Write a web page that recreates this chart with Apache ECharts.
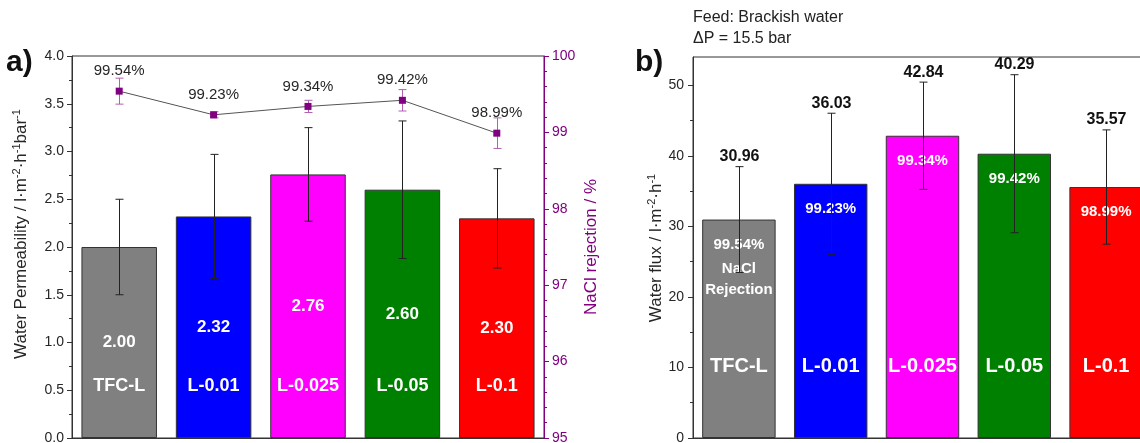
<!DOCTYPE html>
<html><head><meta charset="utf-8">
<script src="https://cdn.jsdelivr.net/npm/echarts@6/dist/echarts.min.js"></script>
<style>html,body{margin:0;padding:0;background:#fff}#c{width:1140px;height:443px}</style>
</head><body><div id="c"></div>
<script>
const categories = ['TFC-L', 'L-0.01', 'L-0.025', 'L-0.05', 'L-0.1'];
const barColors = ['#808080', '#0000FF', '#FF00FF', '#008000', '#FF0000'];
const permeability = [2.00, 2.32, 2.76, 2.60, 2.30];
const permeabilityErr = [0.50, 0.65, 0.49, 0.72, 0.52];
const rejection = [99.54, 99.23, 99.34, 99.42, 98.99];
const rejectionErr = [0.17, 0.04, 0.08, 0.14, 0.20];
const flux = [30.96, 36.03, 42.84, 40.29, 35.57];
const fluxErr = [7.5, 10.0, 7.6, 11.2, 8.1];
const fluxMajorTicks = [0, 10, 20, 30, 40, 50];
const fluxMinorTicks = [5, 15, 25, 35, 45];

const FONT = '"Liberation Sans", Arial, sans-serif';
const PURPLE = '#800080';

function errRender(color, withText, capHalf) {
  return function (params, api) {
    const i = api.value(0), v = api.value(1), e = api.value(2);
    const top = api.coord([i, v + e]);
    const bot = api.coord([i, v - e]);
    const x = Math.round(top[0]) + 0.5;
    const st = { stroke: color, lineWidth: 1 };
    const children = [
      { type: 'line', shape: { x1: x, y1: top[1], x2: x, y2: bot[1] }, style: st },
      { type: 'line', shape: { x1: x - capHalf, y1: top[1], x2: x + capHalf, y2: top[1] }, style: st },
      { type: 'line', shape: { x1: x - capHalf, y1: bot[1], x2: x + capHalf, y2: bot[1] }, style: st }
    ];
    if (withText) {
      children.push({ type: 'text', x: x, y: top[1] - 10,
        style: { text: v.toFixed(2), fill: '#111', font: 'bold 16px ' + FONT, align: 'center', verticalAlign: 'middle' } });
    }
    return { type: 'group', children: children };
  };
}

const chart = echarts.init(document.getElementById('c'), null, { renderer: 'canvas' });

const axisLabelBase = { fontFamily: FONT, fontSize: 14, color: '#262626' };
const titleRich = {
  s: { fontSize: 11, fontFamily: FONT, verticalAlign: 'top', lineHeight: 20 }
};

const option = {
  animation: false,
  backgroundColor: '#fff',
  textStyle: { fontFamily: FONT },
  grid: [
    { left: 72, top: 56, width: 472, height: 382, show: true, borderColor: '#333', borderWidth: 1, backgroundColor: 'transparent', outerBoundsMode: 'none', containLabel: false },
    { left: 693, top: 57, width: 459, height: 381, show: true, borderColor: '#333', borderWidth: 1, backgroundColor: 'transparent', outerBoundsMode: 'none', containLabel: false }
  ],
  xAxis: [
    { type: 'category', gridIndex: 0, data: categories, z: 10,
      axisLine: { lineStyle: { color: '#333', width: 1 } }, axisTick: { show: false },
      axisLabel: { inside: true, interval: 0, hideOverlap: false, margin: 42, color: '#fff', fontWeight: 'bold', fontSize: 18, lineHeight: 20, fontFamily: FONT } },
    { type: 'category', gridIndex: 1, data: categories, z: 10,
      axisLine: { lineStyle: { color: '#333', width: 1 } }, axisTick: { show: false },
      axisLabel: { inside: true, interval: 0, hideOverlap: false, margin: 61, color: '#fff', fontWeight: 'bold', fontSize: 20, lineHeight: 22, fontFamily: FONT } }
  ],
  yAxis: [
    { type: 'value', gridIndex: 0, position: 'left', min: 0, max: 4, interval: 0.5,
      axisLine: { show: true, lineStyle: { color: '#333' } },
      axisTick: { show: true, length: 5 },
      minorTick: { show: true, splitNumber: 2, length: 3 },
      splitLine: { show: false },
      axisLabel: Object.assign({ margin: 8, formatter: v => v.toFixed(1) }, axisLabelBase) },
    { type: 'value', gridIndex: 0, position: 'right', min: 95, max: 100, interval: 1,
      axisLine: { show: true, lineStyle: { color: PURPLE } },
      axisTick: { show: true, length: 5 },
      minorTick: { show: true, splitNumber: 5, length: 3 },
      splitLine: { show: false },
      axisLabel: { margin: 8, fontFamily: FONT, fontSize: 14, color: PURPLE } },
    { type: 'value', gridIndex: 1, position: 'left', min: 0, max: 54,
      axisLine: { show: true, lineStyle: { color: '#333' } },
      axisTick: { show: true, length: 5, customValues: fluxMajorTicks },
      minorTick: { show: false },
      splitLine: { show: false },
      axisLabel: Object.assign({ margin: 9, customValues: fluxMajorTicks }, axisLabelBase) },
    { type: 'value', gridIndex: 1, position: 'left', min: 0, max: 54,
      axisLine: { show: false },
      axisTick: { show: true, length: 3, customValues: fluxMinorTicks, lineStyle: { color: '#333' } },
      splitLine: { show: false },
      axisLabel: { show: false } }
  ],
  series: [
    { type: 'bar', xAxisIndex: 0, yAxisIndex: 0, barWidth: '80%',
      data: permeability.map((v, i) => ({ value: v, itemStyle: { color: barColors[i] } })),
      itemStyle: { borderColor: '#333', borderWidth: 1 },
      label: { show: true, position: 'inside', color: '#fff', fontWeight: 'bold', fontSize: 17, fontFamily: FONT,
        formatter: p => p.value.toFixed(2) } },
    { type: 'custom', xAxisIndex: 0, yAxisIndex: 0, z: 3,
      renderItem: errRender('#222', false, 4),
      data: permeability.map((v, i) => [i, v, permeabilityErr[i]]) },
    { type: 'custom', xAxisIndex: 0, yAxisIndex: 1, z: 3,
      renderItem: errRender('#b060b0', false, 4),
      data: rejection.map((v, i) => [i, v, rejectionErr[i]]) },
    { type: 'line', xAxisIndex: 0, yAxisIndex: 1, z: 4, data: rejection,
      symbol: 'rect', symbolSize: 7,
      itemStyle: { color: PURPLE },
      lineStyle: { color: '#555', width: 1 },
      label: { show: true, position: 'top', distance: 9, color: '#262626', fontSize: 15, fontFamily: FONT,
        formatter: p => p.value.toFixed(2) + '%' } },
    { type: 'bar', xAxisIndex: 1, yAxisIndex: 2, barWidth: '80%',
      data: flux.map((v, i) => ({ value: v, itemStyle: { color: barColors[i] } })),
      itemStyle: { borderColor: '#333', borderWidth: 1 },
      label: { show: true, position: 'insideTop', distance: 15, color: '#fff', fontWeight: 'bold', fontSize: 15, fontFamily: FONT, lineHeight: 20,
        formatter: p => p.dataIndex === 0
          ? '{v|' + rejection[0].toFixed(2) + '%}\n{n|NaCl}\n{r|Rejection}'
          : rejection[p.dataIndex].toFixed(2) + '%',
        rich: {
          v: { color: '#fff', fontWeight: 'bold', fontSize: 15, fontFamily: FONT, lineHeight: 20 },
          n: { color: '#fff', fontWeight: 'bold', fontSize: 15, fontFamily: FONT, lineHeight: 28 },
          r: { color: '#fff', fontWeight: 'bold', fontSize: 15, fontFamily: FONT, lineHeight: 14 }
        } } },
    { type: 'custom', xAxisIndex: 1, yAxisIndex: 2, z: 3,
      renderItem: errRender('#222', true, 4),
      data: flux.map((v, i) => [i, v, fluxErr[i]]) }
  ],
  graphic: [
    { type: 'text', x: 6, y: 48, style: { text: 'a)', font: 'bold 30px ' + FONT, fill: '#111' } },
    { type: 'text', x: 635, y: 48, style: { text: 'b)', font: 'bold 30px ' + FONT, fill: '#111' } },
    { type: 'text', x: 693, y: 10, style: { text: 'Feed: Brackish water', font: '16px ' + FONT, fill: '#222' } },
    { type: 'text', x: 693, y: 31, style: { text: 'ΔP = 15.5 bar', font: '16px ' + FONT, fill: '#222' } },
    { type: 'text', x: 21, y: 234, rotation: Math.PI / 2,
      style: { text: 'Water Permeability / l·m{s|-2}·h{s|-1}bar{s|-1}', font: '17px ' + FONT, fill: '#262626',
        align: 'center', verticalAlign: 'middle', lineHeight: 20, rich: titleRich } },
    { type: 'text', x: 591, y: 247, rotation: Math.PI / 2,
      style: { text: 'NaCl rejection / %', font: '17px ' + FONT, fill: PURPLE, align: 'center', verticalAlign: 'middle' } },
    { type: 'text', x: 656, y: 248, rotation: Math.PI / 2,
      style: { text: 'Water flux / l·m{s|-2}·h{s|-1}', font: '17px ' + FONT, fill: '#262626',
        align: 'center', verticalAlign: 'middle', lineHeight: 20, rich: titleRich } }
  ]
};
chart.setOption(option);
</script>
</body></html>
